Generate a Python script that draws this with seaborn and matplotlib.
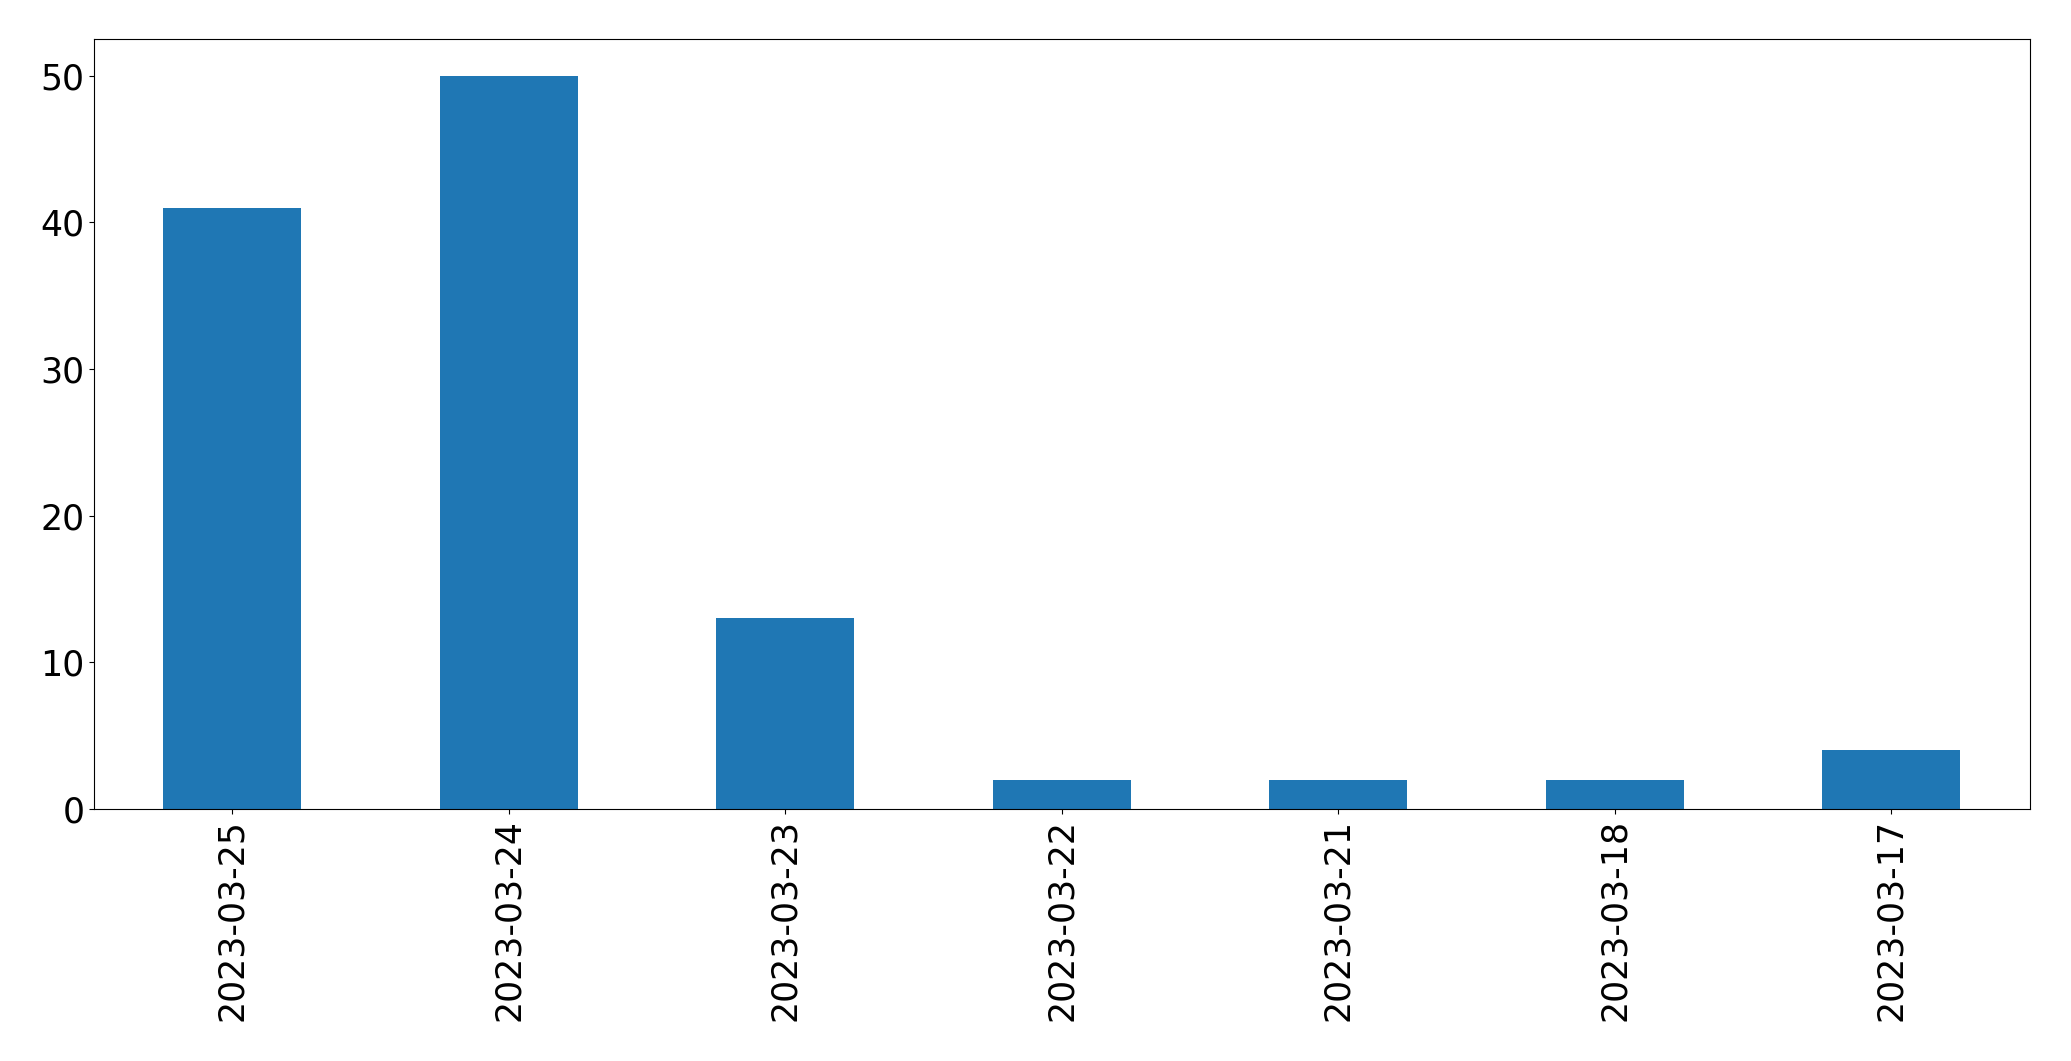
import matplotlib
matplotlib.use('Agg')
import matplotlib.pyplot as plt
import seaborn as sns
import pandas as pd

# daily counts, newest first
DATES  = ['2023-03-25', '2023-03-24', '2023-03-23', '2023-03-22',
          '2023-03-21', '2023-03-18', '2023-03-17']
COUNTS = [41, 50, 13, 2, 2, 2, 4]

df = pd.DataFrame({'date': DATES, 'count': COUNTS})

fig, ax = plt.subplots(figsize=(20.71, 10.61), dpi=100)
sns.barplot(data=df, x='date', y='count', order=DATES,
            color='#1f77b4', saturation=1, width=0.5, ax=ax)

ax.set_xlabel('')
ax.set_ylabel('')
ax.tick_params(axis='both', labelsize=25)
ax.tick_params(axis='x', labelrotation=90)
ax.set_yticks([0, 10, 20, 30, 40, 50])

plt.subplots_adjust(left=0.0454, right=0.980, top=0.9632, bottom=0.2375)
plt.savefig('out.png', dpi=100)
